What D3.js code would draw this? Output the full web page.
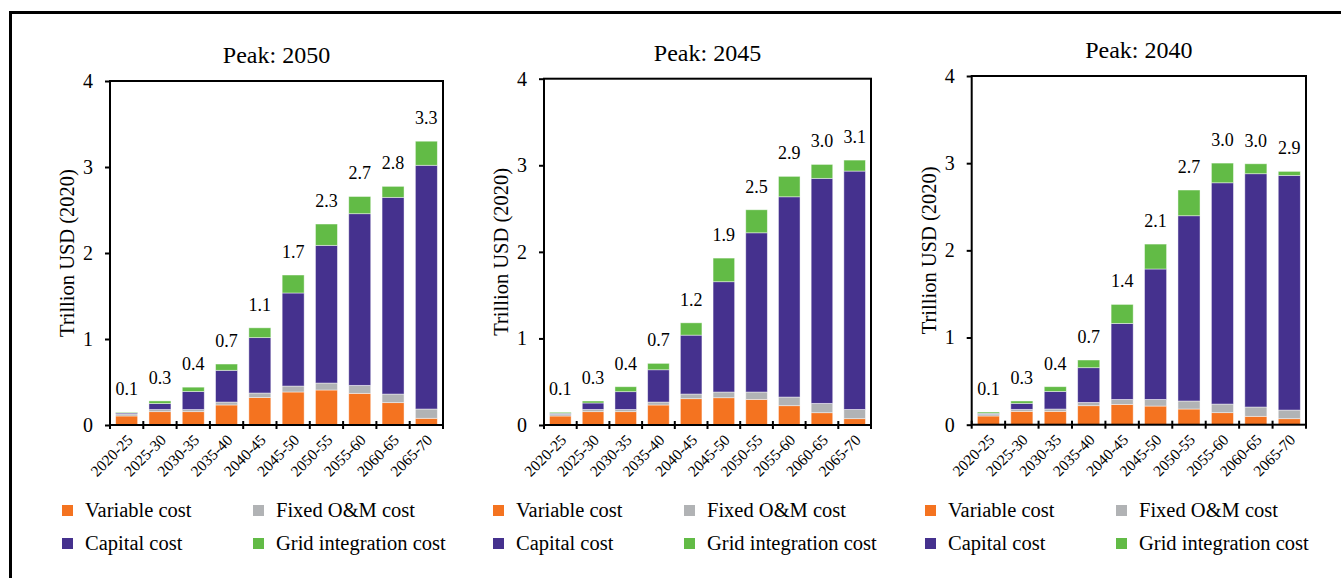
<!DOCTYPE html>
<html><head><meta charset="utf-8">
<script src="https://cdn.jsdelivr.net/npm/d3@7"></script>
<style>body{margin:0;background:#fff;} svg{display:block;}</style>
</head><body>
<svg id="chart" width="1341" height="578"></svg>
<script>
// ---- data ----
const periods = ["2020-25","2025-30","2030-35","2035-40","2040-45","2045-50","2050-55","2055-60","2060-65","2065-70"];
const seriesNames = ["Variable cost","Fixed O&M cost","Capital cost","Grid integration cost"];
const panelTitles = ["Peak: 2050","Peak: 2045","Peak: 2040"];
const yTicks = [0,1,2,3,4];

// Peak 2050
const variable2050 = [0.105,0.155,0.155,0.233,0.320,0.384,0.407,0.368,0.260,0.078];
const fixed2050    = [0.023,0.025,0.025,0.034,0.052,0.069,0.081,0.093,0.100,0.108];
const capital2050  = [0.012,0.070,0.210,0.369,0.644,1.082,1.601,1.996,2.287,2.834];
const grid2050     = [0.008,0.030,0.050,0.073,0.114,0.209,0.248,0.200,0.128,0.280];
// Peak 2045
const variable2045 = [0.104,0.154,0.154,0.231,0.304,0.315,0.296,0.223,0.142,0.073];
const fixed2045    = [0.019,0.026,0.026,0.034,0.054,0.066,0.085,0.100,0.108,0.107];
const capital2045  = [0.012,0.074,0.205,0.373,0.680,1.274,1.839,2.313,2.599,2.753];
const grid2045     = [0.012,0.023,0.057,0.074,0.142,0.273,0.266,0.236,0.161,0.127];
// Peak 2040
const variable2040 = [0.100,0.153,0.153,0.218,0.233,0.214,0.180,0.138,0.096,0.069];
const fixed2040    = [0.019,0.023,0.027,0.038,0.057,0.076,0.092,0.099,0.107,0.099];
const capital2040  = [0.011,0.069,0.202,0.398,0.872,1.496,2.125,2.538,2.676,2.692];
const grid2040     = [0.015,0.027,0.054,0.088,0.218,0.286,0.295,0.226,0.114,0.046];

const panelData = [
  [variable2050, fixed2050, capital2050, grid2050],
  [variable2045, fixed2045, capital2045, grid2045],
  [variable2040, fixed2040, capital2040, grid2040]
];

// ---- style / layout ----
const FONT = "Liberation Serif";
const colors = ["#F47320","#B1B3B5","#45318E","#62BB46"];
const layouts = [
  {left:110, right:443, top:81,  bottom:425, legendX:62},
  {left:544, right:871, top:78.7, bottom:425, legendX:493},
  {left:971.7, right:1306, top:76, bottom:424.7, legendX:925}
];

const svg = d3.select("#chart");

// outer frame (top and left edges visible)
svg.append("path")
  .attr("d","M10.5,590 L10.5,12.5 L1360,12.5")
  .attr("fill","none").attr("stroke","#000").attr("stroke-width",3);

layouts.forEach((L, pi) => {
  const g = svg.append("g");
  const x = d3.scaleBand().domain(periods).range([L.left, L.right]).paddingInner(0.34).paddingOuter(0.17);
  const y = d3.scaleLinear().domain([0,4]).range([L.bottom, L.top]);

  const rows = periods.map((p,i) => {
    const o = {period:p};
    seriesNames.forEach((s,k) => o[s] = panelData[pi][k][i]);
    return o;
  });
  const stacked = d3.stack().keys(seriesNames)(rows);

  // bars
  stacked.forEach((layer, k) => {
    g.append("g").selectAll("rect").data(layer).join("rect")
      .attr("x", d => x(d.data.period))
      .attr("width", x.bandwidth())
      .attr("y", d => y(d[1]))
      .attr("height", d => Math.max(0, y(d[0]) - y(d[1])))
      .attr("fill", colors[k])
      .attr("stroke","#ffffff").attr("stroke-opacity",0.55).attr("stroke-width",0.8);
  });

  // frame
  g.append("rect")
    .attr("x", L.left).attr("y", L.top)
    .attr("width", L.right - L.left).attr("height", L.bottom - L.top)
    .attr("fill","none").attr("stroke","#000").attr("stroke-width",2);

  // y axis
  const yAxis = d3.axisLeft(y).tickValues(yTicks).tickFormat(d3.format("d")).tickSize(5).tickPadding(12);
  const ya = g.append("g").attr("transform",`translate(${L.left},0)`).call(yAxis);
  ya.attr("font-family", FONT);
  ya.select(".domain").remove();
  ya.selectAll("line").attr("stroke","#000").attr("stroke-width",2);
  ya.selectAll("text").attr("font-size",20).attr("fill","#000").attr("font-family", FONT);

  // x axis ticks at band boundaries
  const bounds = d3.range(periods.length + 1).map(i => L.left + i * (L.right - L.left) / periods.length);
  g.append("g").selectAll("line").data(bounds).join("line")
    .attr("x1", d => d).attr("x2", d => d)
    .attr("y1", L.bottom - 4).attr("y2", L.bottom + 4)
    .attr("stroke","#000").attr("stroke-width",2);

  // x labels
  g.append("g").selectAll("text").data(periods).join("text")
    .attr("transform", d => `translate(${x(d) + x.bandwidth()/2 + 7},${L.bottom + 16}) rotate(-45)`)
    .attr("text-anchor","end")
    .attr("font-family", FONT)
    .attr("font-size",15.5)
    .text(d => d);

  // totals
  g.append("g").selectAll("text").data(rows).join("text")
    .attr("x", d => x(d.period) + x.bandwidth()/2)
    .attr("y", d => y(d3.sum(seriesNames, s => d[s])) - 17)
    .attr("text-anchor","middle")
    .attr("font-family", FONT)
    .attr("font-size",18)
    .text(d => d3.sum(seriesNames, s => d[s]).toFixed(1));

  // title
  g.append("text")
    .attr("x", (L.left + L.right)/2).attr("y", L.top - 18)
    .attr("text-anchor","middle")
    .attr("font-family", FONT).attr("font-size",24)
    .text(panelTitles[pi]);

  // y-axis title
  g.append("text")
    .attr("transform", `translate(${L.left - 43},${(L.top + L.bottom)/2}) rotate(-90)`)
    .attr("text-anchor","middle").attr("dominant-baseline","central")
    .attr("font-family", FONT).attr("font-size",20.5)
    .text("Trillion USD (2020)");

  // legend
  const legOrder = [[0,1],[2,3]];
  legOrder.forEach((row, r) => {
    row.forEach((k, c) => {
      const lx = L.legendX + c * 191;
      const ly = 505 + r * 33;
      g.append("rect").attr("x", lx).attr("y", ly).attr("width",11).attr("height",11).attr("fill", colors[k]);
      g.append("text").attr("x", lx + 23).attr("y", ly + 12)
        .attr("font-family", FONT).attr("font-size",20.5).text(seriesNames[k]);
    });
  });
});
</script>
</body></html>
